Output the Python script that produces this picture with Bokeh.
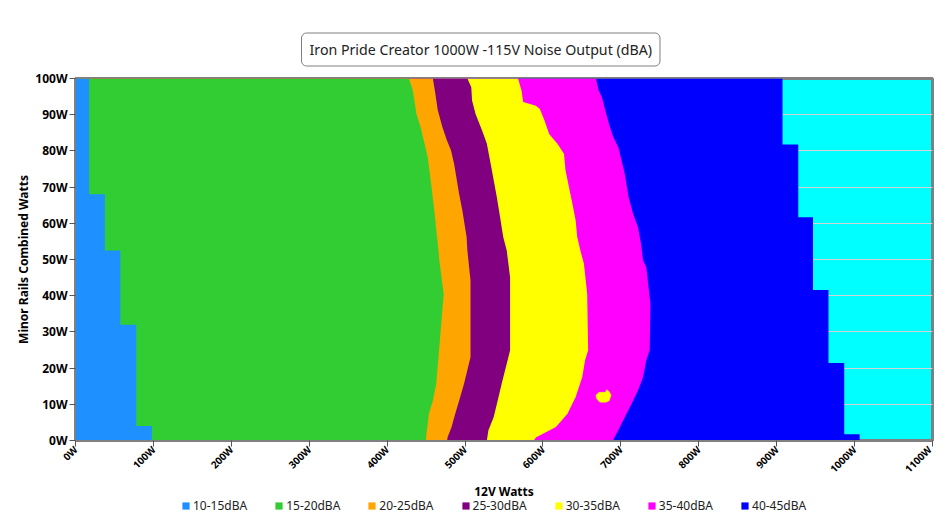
import numpy as np
from math import pi
from bokeh.plotting import figure
from bokeh.layouts import column
from bokeh.models import Range1d, FixedTicker, PrintfTickFormatter, Legend, LegendItem
from bokeh.embed import file_html
from bokeh.resources import INLINE

title_text = "Iron Pride Creator 1000W -115V Noise Output (dBA)"
x_label = "12V Watts"
y_label = "Minor Rails Combined Watts"
x_ticks = list(range(0, 1101, 100))
y_ticks = list(range(0, 101, 10))

band_labels = ["10-15dBA", "15-20dBA", "20-25dBA", "25-30dBA", "30-35dBA", "35-40dBA", "40-45dBA"]
band_colors = ["dodgerblue", "limegreen", "orange", "purple", "yellow", "magenta", "blue"]
top_color = "cyan"

# 10-15 / 15-20 boundary (stepped): y edges and x per step
b1_edges = [100, 68, 52.5, 32, 4, 0]
b1_x = [17.5, 37.7, 57.5, 78, 98]

# 15-20 / 20-25 boundary
b2_y = [100, 96.7, 90.2, 86.5, 82, 78.3, 70, 62.6, 54.3, 49.7, 40.5, 25.8, 15.7, 11, 7.4, 0.9, 0]
b2_x = [428, 433, 437.6, 443, 448, 452, 457, 461, 465, 467, 472.6, 467, 463, 458.7, 453.6, 450, 450]

# 20-25 / 25-30 boundary
b3_y = [100, 96.2, 91.2, 86.5, 82.9, 80.1, 76.4, 68.1, 63.5, 56.2, 52.5, 44.2, 23, 15.7, 11, 7.4, 3.7, 0.9, 0]
b3_x = [458.7, 461.6, 465, 471, 476.8, 482, 486, 492.4, 496.6, 502, 503, 507, 507, 498.7, 492.4, 487.4, 482.7, 477.6, 477]

# 25-30 / 30-35 boundary
b4_y = [100, 97.6, 93.9, 90.2, 85.6, 82, 75.5, 67.2, 61.7, 56.2, 52.5, 45.1, 24.9, 21.2, 15.7, 12, 6.4, 2.8, 0]
b4_x = [503, 508, 509, 513.5, 522, 528, 533.7, 540.8, 545, 549, 553.5, 557.8, 557.8, 553.5, 547, 543, 536.7, 530, 528]

# 30-35 / 35-40 boundary
b5_y = [100, 96.7, 93.5, 92.5, 91.6, 88.4, 84.7, 82, 79.2, 74.6, 65.4, 60.8, 56.2, 52.5, 48.8, 40.5, 24.9, 22.1, 17.5, 12, 7.4, 3.7, 0.9, 0]
b5_x = [568, 572.5, 574.6, 591, 596, 602, 608, 618.6, 627, 629, 637.8, 642, 644, 648, 652.6, 656.8, 658, 654, 650.4, 642, 631.5, 616.7, 591.4, 588]

# 35-40 / 40-45 boundary
b6_y = [100, 96.7, 94.8, 91.2, 86.5, 83.8, 81, 77.3, 73.7, 67.2, 62.6, 58.9, 54.3, 49.7, 47.9, 37.8, 24.9, 22.1, 17.5, 13.8, 10.1, 6.4, 2.8, 0.9, 0]
b6_x = [668, 671.5, 675.7, 680, 686, 690.5, 696.8, 701, 705, 710, 715.8, 722, 726, 728.5, 732.6, 738, 737, 732.6, 728.5, 722, 713.6, 705, 696.8, 691.8, 690]

# 40-45 / above boundary (stepped)
b7_edges = [100, 81.8, 61.7, 41.6, 21.4, 1.7, 0]
b7_x = [907.5, 927.7, 946.6, 966.5, 986.7, 1006.5]

# small 30-35 island inside the 35-40 band
island_x = [668, 672, 680, 682, 685, 687.5, 685, 681, 673, 669]
island_y = [12.5, 13.3, 13.3, 14, 13.5, 12.5, 11, 10.6, 10.6, 11.5]


def steps(edges, xs):
    yy, xx = [], []
    for i, x in enumerate(xs):
        yy += [edges[i], edges[i + 1]]
        xx += [x, x]
    return xx, yy


b1_xs, b1_ys = steps(b1_edges, b1_x)
b7_xs, b7_ys = steps(b7_edges, b7_x)

boundaries = [
    (b1_xs, b1_ys),
    (b2_x, b2_y),
    (b3_x, b3_y),
    (b4_x, b4_y),
    (b5_x, b5_y),
    (b6_x, b6_y),
    (b7_xs, b7_ys),
]

FONT = "Noto Sans"
W = 934
H_MAIN = 514
H_LEG = 18

p = figure(width=W, height=H_MAIN, output_backend="svg", toolbar_location=None,
           x_range=Range1d(0, 1100), y_range=Range1d(0, 100),
           min_border_left=75, min_border_right=2, min_border_top=78, min_border_bottom=74)

p.background_fill_color = top_color
p.border_fill_color = "white"
p.outline_line_color = "#808080"
p.outline_line_width = 3

p.xgrid.visible = False
p.ygrid.grid_line_color = "#d3d3d3"
p.ygrid.grid_line_width = 1
p.ygrid.ticker = FixedTicker(ticks=y_ticks)

for i in range(len(boundaries) - 1, -1, -1):
    bx, by = boundaries[i]
    p.harea(x1=np.zeros(len(bx)), x2=np.array(bx, dtype=float), y=np.array(by, dtype=float),
            fill_color=band_colors[i], fill_alpha=1.0)

p.patch(island_x, island_y, fill_color=band_colors[4], line_color=band_colors[4], line_width=0.5)

# axes
for ax in (p.xaxis[0], p.yaxis[0]):
    ax.axis_line_color = "#808080"
    ax.major_tick_line_color = "#555555"
    ax.major_tick_out = 6
    ax.major_tick_in = 0
    ax.minor_tick_line_color = None
    ax.major_label_text_font = FONT
    ax.major_label_text_font_style = "bold"
    ax.major_label_text_color = "black"
    ax.axis_label_text_font = FONT
    ax.axis_label_text_font_style = "bold"
    ax.axis_label_text_font_size = "12px"
    ax.axis_label_text_color = "black"

p.yaxis.major_label_text_font_size = "12px"
p.xaxis.major_label_text_font_size = "10px"
p.xaxis.ticker = FixedTicker(ticks=x_ticks)
p.yaxis.ticker = FixedTicker(ticks=y_ticks)
p.xaxis.formatter = PrintfTickFormatter(format="%dW")
p.yaxis.formatter = PrintfTickFormatter(format="%dW")
p.xaxis.major_label_orientation = pi / 4
p.xaxis.major_label_standoff = 1
p.yaxis.major_label_standoff = 2
p.xaxis.axis_label = x_label
p.yaxis.axis_label = y_label
p.xaxis.axis_label_standoff = 0
p.yaxis.axis_label_standoff = 0

# title
p.title.text = title_text
p.title.align = "left"
p.title.offset = 226
p.title.text_font = FONT
p.title.text_font_size = "14.2px"
p.title.text_font_style = "normal"
p.title.text_color = "#222222"
p.title.border_line_color = "#808080"
p.title.border_line_width = 1
p.title.border_radius = 5
p.title.padding = (8, 7)
p.title.background_fill_color = "white"
p.title.standoff = 25

# legend strip, laid over the bottom edge of the chart
pl = figure(width=W, height=H_LEG, output_backend="svg", toolbar_location=None,
            x_range=Range1d(0, 1), y_range=Range1d(0, 1),
            x_axis_location=None, y_axis_location=None, min_border=0,
            margin=(-H_LEG, 0, 0, 0))
pl.xgrid.visible = False
pl.ygrid.visible = False
pl.outline_line_color = None
pl.background_fill_alpha = 0
pl.border_fill_alpha = 0

# legend proxies: one off-range cell each, so only their legend swatches show
proxy_lo = [5.0]
proxy_hi = [6.0]
items = []
for lab, col in zip(band_labels, band_colors):
    r = pl.quad(left=proxy_lo, right=proxy_hi, bottom=proxy_lo, top=proxy_hi,
                fill_color=col, line_color=None)
    items.append(LegendItem(label=lab, renderers=[r], index=0))

legend = Legend(items=items, orientation="horizontal", location=(106, 0),
                glyph_width=9, glyph_height=9, label_standoff=3, spacing=27, label_height=12,
                label_text_font=FONT, label_text_font_size="12px", label_text_color="#222222",
                border_line_color=None, background_fill_alpha=0, padding=0, margin=0)
pl.add_layout(legend)

layout = column(p, pl, spacing=0)
open("out.html", "w").write(file_html(layout, INLINE))
